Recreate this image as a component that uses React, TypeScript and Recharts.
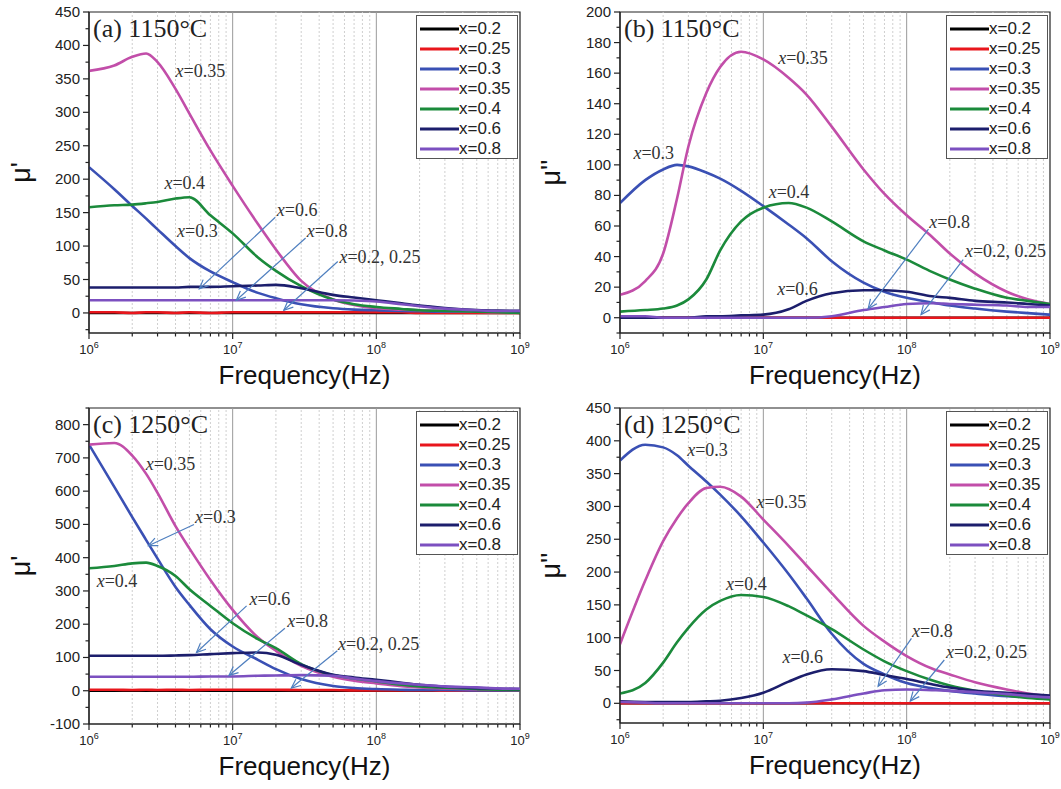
import React from "react";
import {
  LineChart,
  Line,
  XAxis,
  YAxis,
  ReferenceLine,
  ReferenceDot,
  ReferenceArea,
  Legend,
} from "recharts";

const SANS = "'Liberation Sans', Arial, sans-serif";
const SERIF = "'Liberation Serif', 'Times New Roman', serif";
const ARROW = "#4f7fbf";

// frequency points (Hz)
const FREQ = [1e6, 1.5e6, 2e6, 2.5e6, 3e6, 4e6, 5e6, 7e6, 1e7, 1.5e7, 2e7, 3e7, 5e7, 7e7, 1e8, 1.5e8, 2e8, 3e8, 5e8, 7e8, 1e9];

const SERIES = ["x=0.2", "x=0.25", "x=0.3", "x=0.35", "x=0.4", "x=0.6", "x=0.8"];
const COLORS = ["#000000", "#e8161c", "#3a50b4", "#c24ea9", "#1b8a3b", "#1c1e6c", "#7c50c0"];

// (a) 1150°C, mu'
const A_X02 = [0, 0, 0, 0, 0, 0, 0, 0, 0, 0, 0, 0, 0, 0, 0, 0, 0, 0, 0, 0, 0];
const A_X025 = [1, 1, 0, 1, 1, 0, 1, 0, 1, 1, 1, 1, 1, 1, 1, 1, 0, 0, 0, 0, 0];
const A_X03 = [218, 185, 160, 141, 125, 100, 82, 62, 46, 30, 22, 13, 7, 5, 4, 3, 2.5, 2, 2, 2, 2];
const A_X035 = [362, 370, 383, 388, 375, 335, 298, 243, 190, 133, 95, 48, 20, 12, 7, 5, 4, 3, 2, 1, 1];
const A_X04 = [158, 161, 162, 164, 166, 171, 173, 146, 119, 83, 63, 40, 20, 13, 9, 6, 4, 3, 2, 1, 0];
const A_X06 = [38, 38, 38, 38, 38, 38, 39, 39, 40, 41, 42, 37, 27, 23, 19, 14.5, 11, 7.5, 4.5, 3.5, 3];
const A_X08 = [19, 19, 19, 19, 19, 19, 19, 19, 19, 19, 19, 19, 19, 18.5, 17, 13, 10, 6.5, 4, 3, 3];

// (b) 1150°C, mu''
const B_X02 = [0, 0, 0, 0, 0, 0, 0, 0, 0, 0, 0, 0, 0, 0, 0, 0, 0, 0, 0, 0, 0];
const B_X025 = [0, 0, 0, 0, 0, 0, 0, 0, 0, 0, 0, 0, 0, 0, 0, 0, 0, 0, 0, 0, 0];
const B_X03 = [75, 90, 97, 100, 99, 95, 91, 83, 73, 61, 52, 37, 23, 17, 13, 10, 8, 6, 4, 3, 2];
const B_X035 = [15, 24, 42, 78, 112, 147, 164, 174, 169, 157, 146, 125, 97, 81, 67, 53, 42, 29, 17, 12, 9];
const B_X04 = [4, 5, 6, 8, 12, 25, 44, 63, 72, 75, 72, 63, 50, 44, 38, 30, 25, 19, 13, 11, 9];
const B_X06 = [0, 0, 0, 0, 0, 1, 1, 1.5, 2, 5.5, 11, 16, 18, 18, 17, 14, 13, 11, 10, 9, 8];
const B_X08 = [1, 1, 0, 0, 0, 0, 0, 0, 0, 0, 0, 1, 5, 7, 9, 9.5, 9, 8.5, 8, 7, 7];

// (c) 1250°C, mu'
const C_X02 = [0, 0, 0, 0, 0, 0, 0, 0, 0, 0, 0, 0, 0, 0, 0, 0, 0, 0, 0, 0, 0];
const C_X025 = [3, 3, 2, 3, 2, 3, 2, 3, 3, 3, 3, 2, 2, 1, 1, 1, 1, 0, 0, 0, 0];
const C_X03 = [740, 613, 522, 453, 397, 312, 258, 185, 133, 93, 65, 35, 14, 8, 5, 3, 2, 2, 1, 1, 1];
const C_X035 = [740, 745, 707, 652, 595, 495, 428, 333, 243, 160, 120, 75, 42, 30, 22, 14, 10, 7, 4, 3, 2];
const C_X04 = [368, 375, 383, 385, 375, 345, 305, 255, 203, 155, 128, 80, 47, 37, 28, 18, 13, 9, 5, 3, 2];
const C_X06 = [105, 105, 105, 105, 105, 106, 107, 110, 113, 115, 108, 78, 48, 40, 33, 24, 18, 12, 8, 6, 5];
const C_X08 = [42, 42, 42, 42, 42, 42, 42, 43, 43, 45, 46, 47, 45, 37, 29, 22, 18, 13, 10, 7, 6];

// (d) 1250°C, mu''
const D_X02 = [0, 0, 0, 0, 0, 0, 0, 0, 0, 0, 0, 0, 0, 0, 0, 0, 0, 0, 0, 0, 0];
const D_X025 = [0, 0, 0, 0, 0, 0, 0, 0, 0, 0, 0, 0, 0, 0, 0, 0, 0, 0, 0, 0, 0];
const D_X03 = [370, 394, 390, 378, 362, 338, 318, 285, 245, 197, 160, 106, 60, 44, 31, 23, 19, 15, 11, 10, 9];
const D_X035 = [90, 187, 247, 282, 305, 328, 330, 315, 280, 240, 210, 168, 118, 94, 72, 53, 44, 32, 21, 15, 11];
const D_X04 = [15, 31, 62, 93, 115, 143, 156, 165, 162, 148, 134, 113, 82, 64, 49, 35, 27, 19, 12, 8, 6];
const D_X06 = [3, 2, 2, 2, 2, 3, 4, 8, 16, 33, 44, 52, 49, 43, 37, 29, 24, 19, 16, 14, 12];
const D_X08 = [2, 1, 0, 0, 0, 0, 0, 0, 0, 0, 1, 6, 15, 20, 21, 20, 19, 17, 14, 11, 9];

// annotations (data coordinates)
const A_NOTES = [
  { f: 4.0e6, v: 353, text: "x=0.35" },
  { f: 3.35e6, v: 185, text: "x=0.4" },
  { f: 4.1e6, v: 114, text: "x=0.3" },
  { f: 2.03e7, v: 145, text: "x=0.6" },
  { f: 3.28e7, v: 114, text: "x=0.8" },
  { f: 5.54e7, v: 75, text: "x=0.2, 0.25" },
];
const A_ARROWS = [
  { f1: 1.98e7, v1: 143, f2: 5.86e6, v2: 36 },
  { f1: 3.22e7, v1: 112, f2: 1.06e7, v2: 19 },
  { f1: 5.39e7, v1: 77, f2: 2.27e7, v2: 4 },
];
const B_NOTES = [
  { f: 1.27e7, v: 166, text: "x=0.35" },
  { f: 1.24e6, v: 104, text: "x=0.3" },
  { f: 1.09e7, v: 78, text: "x=0.4" },
  { f: 1.44e8, v: 59, text: "x=0.8" },
  { f: 2.55e8, v: 40, text: "x=0.2, 0.25" },
  { f: 1.25e7, v: 15, text: "x=0.6" },
];
const B_ARROWS = [
  { f1: 1.42e8, v1: 58, f2: 5.39e7, v2: 6 },
  { f1: 2.48e8, v1: 38, f2: 1.26e8, v2: 2 },
];
const C_NOTES = [
  { f: 2.48e6, v: 663, text: "x=0.35" },
  { f: 5.47e6, v: 503, text: "x=0.3" },
  { f: 1.13e6, v: 313, text: "x=0.4" },
  { f: 1.31e7, v: 258, text: "x=0.6" },
  { f: 2.4e7, v: 191, text: "x=0.8" },
  { f: 5.41e7, v: 123, text: "x=0.2, 0.25" },
];
const C_ARROWS = [
  { f1: 5.38e6, v1: 500, f2: 2.59e6, v2: 436 },
  { f1: 1.25e7, v1: 255, f2: 5.6e6, v2: 115 },
  { f1: 2.31e7, v1: 188, f2: 9.42e6, v2: 46 },
  { f1: 5.35e7, v1: 120, f2: 2.56e7, v2: 8 },
];
const D_NOTES = [
  { f: 2.94e6, v: 377, text: "x=0.3" },
  { f: 8.97e6, v: 298, text: "x=0.35" },
  { f: 5.49e6, v: 172, text: "x=0.4" },
  { f: 1.36e7, v: 61, text: "x=0.6" },
  { f: 1.09e8, v: 101, text: "x=0.8" },
  { f: 1.88e8, v: 69, text: "x=0.2, 0.25" },
];
const D_ARROWS = [
  { f1: 1.08e8, v1: 99, f2: 6.32e7, v2: 26 },
  { f1: 1.83e8, v1: 66, f2: 1.06e8, v2: 3.5 },
];

// axis ticks
const DECADES = [1e6, 1e7, 1e8];
const X_TICKS = [...DECADES.flatMap((d) => [1, 2, 3, 4, 5, 6, 7, 8, 9].map((m) => d * m)), 1e9];
const MAJOR_GRID = [1e7, 1e8];
const MINOR_GRID = X_TICKS.filter((f) => !DECADES.includes(f) && f !== 1e9);

const range = (a: number, b: number, s: number) => {
  const out: number[] = [];
  for (let v = a; v <= b + 1e-9; v += s) out.push(v);
  return out;
};
const A_YTICKS = range(-25, 450, 25);
const B_YTICKS = range(-10, 200, 10);
const C_YTICKS = range(-100, 850, 50);
const D_YTICKS = range(-25, 450, 25);

const buildRows = (series: number[][]) =>
  FREQ.map((f, i) => {
    const row: Record<string, number> = { f };
    series.forEach((s, k) => (row[`s${k}`] = s[i]));
    return row;
  });

const XTick = (props: any) => {
  const { x, y, payload } = props;
  const lg = Math.log10(payload.value);
  const exp = Math.round(lg);
  const major = Math.abs(lg - exp) < 1e-6;
  return (
    <g>
      <line x1={x} x2={x} y1={y} y2={y + (major ? 6 : 3.5)} stroke="#222" strokeWidth={1.2} />
      {major && (
        <text x={x} y={y + 21} textAnchor="middle" fontSize={13} fontFamily={SANS} fill="#222">
          10
          <tspan dy={-6} fontSize={9}>
            {exp}
          </tspan>
        </text>
      )}
    </g>
  );
};

const makeYTick = (step: number) => (props: any) => {
  const { x, y, payload } = props;
  const v = payload.value;
  const major = v % step === 0;
  return (
    <g>
      <line x1={x - (major ? 6 : 3.5)} x2={x} y1={y} y2={y} stroke="#222" strokeWidth={1.2} />
      {major && (
        <text x={x - 9} y={y + 5} textAnchor="end" fontSize={15} fontFamily={SANS} fill="#222">
          {v}
        </text>
      )}
    </g>
  );
};

const arrowShape = (p: any) => {
  const { x1, y1, x2, y2 } = p;
  const ang = Math.atan2(y2 - y1, x2 - x1);
  const len = 10;
  const a = 0.42;
  const ax = x2 - len * Math.cos(ang - a);
  const ay = y2 - len * Math.sin(ang - a);
  const bx = x2 - len * Math.cos(ang + a);
  const by = y2 - len * Math.sin(ang + a);
  return (
    <g>
      <line x1={x1} y1={y1} x2={x2} y2={y2} stroke={ARROW} strokeWidth={1.2} />
      <polyline points={`${ax},${ay} ${x2},${y2} ${bx},${by}`} fill="none" stroke={ARROW} strokeWidth={1.2} />
    </g>
  );
};

const noteShape = (text: string) => (p: any) => (
  <text x={p.cx} y={p.cy} fontFamily={SERIF} fontSize={18} fill="#333">
    <tspan fontStyle="italic">x</tspan>
    {text.slice(1)}
  </text>
);

const LegendBox = ({ payload }: any) => (
  <div
    style={{
      border: "1px solid #555",
      background: "#fff",
      width: 102,
      height: 144,
      boxSizing: "border-box",
      paddingTop: 3,
    }}
  >
    {(payload || []).map((p: any, i: number) => (
      <div key={i} style={{ display: "flex", alignItems: "center", height: 20 }}>
        <svg width={42} height={20} style={{ display: "block" }}>
          <line x1={3} x2={42} y1={10} y2={10} stroke={p.color} strokeWidth={3} />
        </svg>
        <span style={{ font: `17px ${SANS}`, color: "#222", lineHeight: "20px" }}>{p.value}</span>
      </div>
    ))}
  </div>
);

interface PanelProps {
  left: number;
  top: number;
  width: number;
  height: number;
  marginTop: number;
  marginRight: number;
  yAxisWidth: number;
  xAxisHeight: number;
  series: number[][];
  yDomain: [number, number];
  yTicks: number[];
  labelStep: number;
  title: string;
  yLabel: string;
  notes: { f: number; v: number; text: string }[];
  arrows: { f1: number; v1: number; f2: number; v2: number }[];
}

function Panel(props: PanelProps) {
  const { left, top, width, height, marginTop, marginRight, yAxisWidth, xAxisHeight, series, yDomain, yTicks, labelStep, title, yLabel, notes, arrows } = props;
  const data = buildRows(series);
  const plotRight = width - marginRight;
  return (
    <div style={{ position: "absolute", left, top }}>
      <LineChart width={width} height={height} data={data} margin={{ top: marginTop, right: marginRight, bottom: 0, left: 0 }}>
        <XAxis
          dataKey="f"
          type="number"
          scale="log"
          domain={[1e6, 1e9]}
          ticks={X_TICKS}
          interval={0}
          allowDataOverflow
          height={xAxisHeight}
          tickSize={0}
          tickMargin={0}
          tickLine={false}
          tick={XTick}
          stroke="#222"
          strokeWidth={1.2}
          label={({ viewBox }: any) => (
            <text
              x={viewBox.x + viewBox.width / 2}
              y={viewBox.y + 51}
              textAnchor="middle"
              fontSize={26}
              fontFamily={SANS}
              fill="#111"
            >
              Frequency(Hz)
            </text>
          )}
        />
        <YAxis
          type="number"
          domain={yDomain}
          ticks={yTicks}
          interval={0}
          allowDataOverflow
          width={yAxisWidth}
          tickSize={0}
          tickMargin={0}
          tickLine={false}
          tick={makeYTick(labelStep)}
          stroke="#222"
          strokeWidth={1.2}
          label={({ viewBox }: any) => {
            const cx = viewBox.x + 30;
            const cy = viewBox.y + viewBox.height / 2;
            return (
              <text x={cx} y={cy} transform={`rotate(-90, ${cx}, ${cy})`} textAnchor="middle" fontSize={27} fontFamily={SANS} fill="#111">
                {yLabel}
              </text>
            );
          }}
        />
        {MINOR_GRID.map((f) => (
          <ReferenceLine key={`g${f}`} x={f} stroke="#cfcfcf" strokeDasharray="2 2" strokeWidth={1} />
        ))}
        {MAJOR_GRID.map((f) => (
          <ReferenceLine key={`G${f}`} x={f} stroke="#9a9a9a" strokeWidth={1} />
        ))}
        {SERIES.map((name, k) => (
          <Line
            key={name}
            type="monotone"
            dataKey={`s${k}`}
            name={name}
            stroke={COLORS[k]}
            strokeWidth={2.6}
            dot={false}
            activeDot={false}
            isAnimationActive={false}
          />
        ))}
        {arrows.map((a, i) => (
          <ReferenceLine
            key={`a${i}`}
            segment={[
              { x: a.f1, y: a.v1 },
              { x: a.f2, y: a.v2 },
            ]}
            ifOverflow="visible"
            shape={arrowShape}
          />
        ))}
        {notes.map((n, i) => (
          <ReferenceDot key={`n${i}`} x={n.f} y={n.v} r={0} ifOverflow="visible" shape={noteShape(n.text)} />
        ))}
        <ReferenceDot
          x={1e6}
          y={yDomain[1]}
          r={0}
          ifOverflow="visible"
          shape={(p: any) => (
            <text x={p.cx + 4} y={p.cy + 25} fontFamily={SERIF} fontSize={26} fill="#222">
              {title}
            </text>
          )}
        />
        <ReferenceArea x1={1e6} x2={1e9} y1={yDomain[0]} y2={yDomain[1]} fill="none" stroke="#222" strokeWidth={1.2} ifOverflow="visible" />
        <Legend
          layout="vertical"
          align="center"
          verticalAlign="middle"
          content={LegendBox}
          wrapperStyle={{ left: plotRight - 104, top: marginTop + 3, width: 102, height: 144 }}
        />
      </LineChart>
    </div>
  );
}

export default function App() {
  return (
    <div style={{ position: "absolute", left: 0, top: 0, width: 1061, height: 789, background: "#fff", overflow: "hidden" }}>
      <Panel
        left={0}
        top={0}
        width={530}
        height={390}
        marginTop={12}
        marginRight={10}
        yAxisWidth={89}
        xAxisHeight={57}
        series={[A_X02, A_X025, A_X03, A_X035, A_X04, A_X06, A_X08]}
        yDomain={[-30, 450]}
        yTicks={A_YTICKS}
        labelStep={50}
        title="(a) 1150°C"
        yLabel="μ'"
        notes={A_NOTES}
        arrows={A_ARROWS}
      />
      <Panel
        left={530}
        top={0}
        width={531}
        height={390}
        marginTop={12}
        marginRight={11}
        yAxisWidth={90}
        xAxisHeight={57}
        series={[B_X02, B_X025, B_X03, B_X035, B_X04, B_X06, B_X08]}
        yDomain={[-10, 200]}
        yTicks={B_YTICKS}
        labelStep={20}
        title="(b) 1150°C"
        yLabel="μ''"
        notes={B_NOTES}
        arrows={B_ARROWS}
      />
      <Panel
        left={0}
        top={390}
        width={530}
        height={399}
        marginTop={18}
        marginRight={10}
        yAxisWidth={89}
        xAxisHeight={65}
        series={[C_X02, C_X025, C_X03, C_X035, C_X04, C_X06, C_X08]}
        yDomain={[-100, 850]}
        yTicks={C_YTICKS}
        labelStep={100}
        title="(c) 1250°C"
        yLabel="μ'"
        notes={C_NOTES}
        arrows={C_ARROWS}
      />
      <Panel
        left={530}
        top={390}
        width={531}
        height={399}
        marginTop={18}
        marginRight={11}
        yAxisWidth={90}
        xAxisHeight={66}
        series={[D_X02, D_X025, D_X03, D_X035, D_X04, D_X06, D_X08]}
        yDomain={[-30, 450]}
        yTicks={D_YTICKS}
        labelStep={50}
        title="(d) 1250°C"
        yLabel="μ''"
        notes={D_NOTES}
        arrows={D_ARROWS}
      />
    </div>
  );
}
